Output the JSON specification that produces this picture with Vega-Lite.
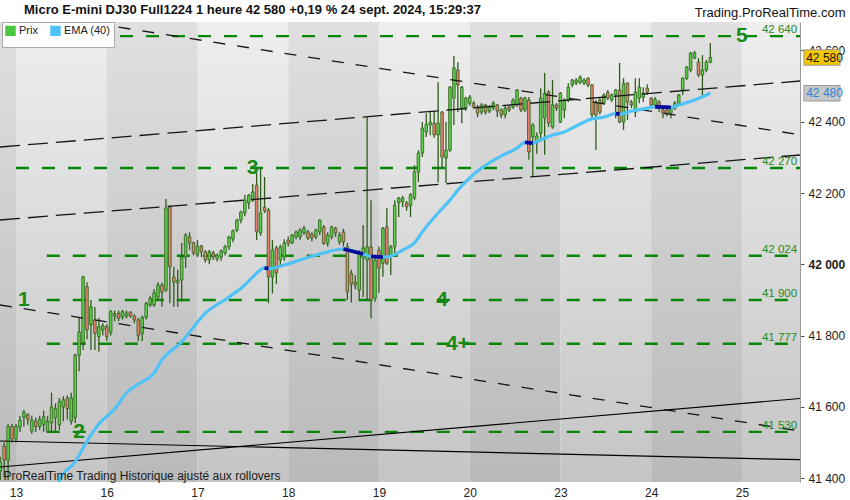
{
"$schema": "https://vega.github.io/schema/vega-lite/v6.json",
"width": 800,
"height": 460,
"autosize": {"type": "none"},
"padding": {"left": 0, "top": 22, "right": 50, "bottom": 18},
"background": "#ffffff",
"config": {"font": "Liberation Sans", "view": {"stroke": null},
"axisX": {"domain": false, "ticks": false, "grid": false, "labelFontSize": 12, "labelColor": "#222222", "labelPadding": 5, "labelFlush": false},
"axisY": {"grid": false, "domain": true, "domainColor": "#9a9a9a", "tickColor": "#555555", "tickSize": 4, "labelPadding": 4, "labelFontSize": 12, "labelColor": "#222222", "titleAngle": 0, "titleX": 45, "titleY": -6, "titleAlign": "right", "titleBaseline": "alphabetic", "titleFontSize": 13, "titleFontWeight": "normal", "titleColor": "#111111"}
},
"title": {"text": "Micro E-mini DJ30 Full1224 1 heure 42 580 +0,19 % 24 sept. 2024, 15:29:37", "anchor": "start", "frame": "group", "dx": 24, "dy": 14, "offset": 3, "fontSize": 13, "fontWeight": "bold", "color": "#111111"},
"datasets": {
"days": [
{"n":0,"day":"12","start":-4.056,"end":0},{"n":1,"day":"13","start":0,"end":23},{"n":2,"day":"16","start":23,"end":46},{"n":3,"day":"17","start":46,"end":69},{"n":4,"day":"18","start":69,"end":92},{"n":5,"day":"19","start":92,"end":115},{"n":6,"day":"20","start":115,"end":138},{"n":7,"day":"23","start":138,"end":161},{"n":8,"day":"24","start":161,"end":184},{"n":9,"day":"25","start":184,"end":198.73}
],
"levels": [
{"v":42640,"lbl":"42 640","from":0},{"v":42270,"lbl":"42 270","from":0},{"v":42024,"lbl":"42 024","from":7.8},{"v":41900,"lbl":"41 900","from":7.8},{"v":41777,"lbl":"41 777","from":7.8},{"v":41530,"lbl":"41 530","from":7.8}
],
"waves": [
{"t":"1","i":2,"v":41900},{"t":"2","i":16,"v":41530},{"t":"3","i":60,"v":42270},{"t":"4","i":108,"v":41900},{"t":"4+","i":112,"v":41777},{"t":"5","i":184,"v":42640}
],
"trends": [
{"k":"up","x1":-4.056,"p1":42329.1,"x2":198.73,"p2":42514.2},
{"k":"up","x1":-4.056,"p1":42124.3,"x2":198.73,"p2":42306.6},
{"k":"down","x1":-4.056,"p1":42717.8,"x2":198.73,"p2":42363.3},
{"k":"down","x1":-4.056,"p1":41885.9,"x2":198.73,"p2":41532.4},
{"k":"solid","x1":-4.056,"p1":41504.4,"x2":198.73,"p2":41451.9},
{"k":"solid","x1":-4.056,"p1":41431.4,"x2":198.73,"p2":41623.6}
],
"tags": [
{"t":"42 580","v":42580,"k":"last"},{"t":"42 480","v":42480,"k":"ema"}
],
"ema": [
{"i":10,"v":41347},{"i":11,"v":41395},{"i":15,"v":41446},{"i":18,"v":41504},{"i":21,"v":41552},{"i":25,"v":41594},{"i":28,"v":41639},{"i":31,"v":41664},{"i":35,"v":41695},{"i":37,"v":41732},{"i":42,"v":41782},{"i":44,"v":41810},{"i":48,"v":41863},{"i":54,"v":41908},{"i":58,"v":41942},{"i":60,"v":41964},{"i":63,"v":41990,"seg":"a"},{"i":64,"v":41988,"seg":"a"},{"i":68,"v":41998},{"i":72,"v":42012},{"i":77,"v":42029},{"i":83,"v":42043,"seg":"b"},{"i":88,"v":42029,"seg":"b"},{"i":90,"v":42022,"seg":"c"},{"i":93,"v":42020,"seg":"c"},{"i":95,"v":42023},{"i":98,"v":42040},{"i":101,"v":42060},{"i":103,"v":42091},{"i":107,"v":42144},{"i":110,"v":42180},{"i":112,"v":42208},{"i":115,"v":42242},{"i":118,"v":42270},{"i":123,"v":42304},{"i":127,"v":42326},{"i":129,"v":42342,"seg":"d"},{"i":131,"v":42340,"seg":"d"},{"i":133,"v":42349},{"i":136,"v":42363},{"i":139,"v":42371},{"i":142,"v":42388},{"i":146,"v":42408},{"i":149,"v":42413},{"i":152,"v":42423,"seg":"e"},{"i":153,"v":42421,"seg":"e"},{"i":156,"v":42430},{"i":160,"v":42438},{"i":162,"v":42442,"seg":"f"},{"i":166,"v":42440,"seg":"f"},{"i":168,"v":42447},{"i":172,"v":42461},{"i":175,"v":42475},{"i":176,"v":42481}
],
"candles": [
{"i":-4,"o":41420,"h":41460,"l":41395,"c":41445},
{"i":-3,"o":41490,"h":41501,"l":41403,"c":41451},
{"i":-2,"o":41451,"h":41552,"l":41395,"c":41545},
{"i":-1,"o":41545,"h":41552,"l":41500,"c":41510},
{"i":0,"o":41510,"h":41552,"l":41500,"c":41545},
{"i":1,"o":41543,"h":41575,"l":41530,"c":41563},
{"i":2,"o":41571,"h":41592,"l":41545,"c":41585},
{"i":3,"o":41578,"h":41582,"l":41550,"c":41566},
{"i":4,"o":41532,"h":41575,"l":41525,"c":41563},
{"i":5,"o":41560,"h":41570,"l":41530,"c":41545},
{"i":6,"o":41545,"h":41575,"l":41535,"c":41565},
{"i":7,"o":41550,"h":41590,"l":41530,"c":41572},
{"i":8,"o":41532,"h":41575,"l":41527,"c":41560},
{"i":9,"o":41555,"h":41640,"l":41528,"c":41600},
{"i":10,"o":41570,"h":41610,"l":41532,"c":41595},
{"i":11,"o":41550,"h":41625,"l":41535,"c":41615},
{"i":12,"o":41600,"h":41630,"l":41560,"c":41620},
{"i":13,"o":41625,"h":41632,"l":41565,"c":41595},
{"i":14,"o":41560,"h":41640,"l":41550,"c":41625},
{"i":15,"o":41570,"h":41750,"l":41555,"c":41745},
{"i":16,"o":41745,"h":41850,"l":41700,"c":41810},
{"i":17,"o":41780,"h":41968,"l":41760,"c":41965},
{"i":18,"o":41937,"h":41950,"l":41790,"c":41816},
{"i":19,"o":41830,"h":41900,"l":41760,"c":41881},
{"i":20,"o":41844,"h":41880,"l":41760,"c":41806},
{"i":21,"o":41797,"h":41850,"l":41755,"c":41825},
{"i":22,"o":41816,"h":41835,"l":41800,"c":41828},
{"i":23,"o":41825,"h":41832,"l":41785,"c":41797},
{"i":24,"o":41810,"h":41872,"l":41800,"c":41867},
{"i":25,"o":41855,"h":41870,"l":41840,"c":41862},
{"i":26,"o":41863,"h":41870,"l":41840,"c":41849},
{"i":27,"o":41852,"h":41872,"l":41845,"c":41867},
{"i":28,"o":41855,"h":41870,"l":41848,"c":41863},
{"i":29,"o":41866,"h":41868,"l":41850,"c":41855},
{"i":30,"o":41855,"h":41860,"l":41835,"c":41844},
{"i":31,"o":41844,"h":41850,"l":41785,"c":41800},
{"i":32,"o":41806,"h":41856,"l":41785,"c":41851},
{"i":33,"o":41852,"h":41895,"l":41845,"c":41890},
{"i":34,"o":41886,"h":41912,"l":41880,"c":41905},
{"i":35,"o":41886,"h":41930,"l":41880,"c":41920},
{"i":36,"o":41908,"h":41950,"l":41900,"c":41942},
{"i":37,"o":41942,"h":41948,"l":41880,"c":41922},
{"i":38,"o":41928,"h":42183,"l":41922,"c":42158},
{"i":39,"o":42161,"h":42164,"l":41891,"c":41993},
{"i":40,"o":41964,"h":41993,"l":41880,"c":41950},
{"i":41,"o":41948,"h":41985,"l":41880,"c":41955},
{"i":42,"o":41956,"h":42060,"l":41895,"c":42020},
{"i":43,"o":42020,"h":42088,"l":41990,"c":42082},
{"i":44,"o":42077,"h":42090,"l":42040,"c":42060},
{"i":45,"o":42060,"h":42064,"l":42025,"c":42032},
{"i":46,"o":42026,"h":42068,"l":42020,"c":42051},
{"i":47,"o":42051,"h":42055,"l":42020,"c":42035},
{"i":48,"o":42035,"h":42040,"l":42005,"c":42012},
{"i":49,"o":42012,"h":42040,"l":42000,"c":42035},
{"i":50,"o":42032,"h":42038,"l":42012,"c":42021},
{"i":51,"o":42015,"h":42030,"l":42008,"c":42026},
{"i":52,"o":42020,"h":42042,"l":42010,"c":42037},
{"i":53,"o":42032,"h":42055,"l":42025,"c":42049},
{"i":54,"o":42049,"h":42080,"l":42040,"c":42077},
{"i":55,"o":42071,"h":42098,"l":42062,"c":42094},
{"i":56,"o":42096,"h":42128,"l":42090,"c":42124},
{"i":57,"o":42124,"h":42150,"l":42115,"c":42147},
{"i":58,"o":42144,"h":42195,"l":42135,"c":42180},
{"i":59,"o":42172,"h":42197,"l":42155,"c":42194},
{"i":60,"o":42180,"h":42225,"l":42175,"c":42203},
{"i":61,"o":42222,"h":42256,"l":42068,"c":42091},
{"i":62,"o":42088,"h":42270,"l":42080,"c":42144},
{"i":63,"o":42160,"h":42245,"l":42144,"c":42150},
{"i":64,"o":42152,"h":42158,"l":41891,"c":41964},
{"i":65,"o":41964,"h":42068,"l":41918,"c":42040},
{"i":66,"o":42046,"h":42052,"l":41945,"c":41976},
{"i":67,"o":42012,"h":42055,"l":41995,"c":42049},
{"i":68,"o":42020,"h":42070,"l":42010,"c":42060},
{"i":69,"o":42068,"h":42078,"l":42050,"c":42059},
{"i":70,"o":42060,"h":42085,"l":42057,"c":42082},
{"i":71,"o":42077,"h":42095,"l":42070,"c":42091},
{"i":72,"o":42077,"h":42101,"l":42068,"c":42096},
{"i":73,"o":42088,"h":42108,"l":42082,"c":42101},
{"i":74,"o":42091,"h":42096,"l":42068,"c":42074},
{"i":75,"o":42085,"h":42090,"l":42065,"c":42074},
{"i":76,"o":42077,"h":42100,"l":42070,"c":42096},
{"i":77,"o":42091,"h":42126,"l":42082,"c":42124},
{"i":78,"o":42105,"h":42110,"l":42054,"c":42059},
{"i":79,"o":42059,"h":42090,"l":42050,"c":42082},
{"i":80,"o":42077,"h":42108,"l":42070,"c":42105},
{"i":81,"o":42101,"h":42105,"l":42077,"c":42088},
{"i":82,"o":42063,"h":42090,"l":42055,"c":42082},
{"i":83,"o":42091,"h":42100,"l":42050,"c":42063},
{"i":84,"o":42049,"h":42060,"l":41900,"c":41923},
{"i":85,"o":41975,"h":41985,"l":41893,"c":41945},
{"i":86,"o":41950,"h":41970,"l":41930,"c":41942},
{"i":87,"o":41928,"h":42040,"l":41900,"c":42031},
{"i":88,"o":42018,"h":42110,"l":41908,"c":42046},
{"i":89,"o":42012,"h":42413,"l":41900,"c":42049},
{"i":90,"o":42049,"h":42180,"l":41849,"c":41900},
{"i":91,"o":41905,"h":42020,"l":41895,"c":42012},
{"i":92,"o":42040,"h":42050,"l":41920,"c":41990},
{"i":93,"o":42003,"h":42105,"l":41965,"c":42101},
{"i":94,"o":42105,"h":42158,"l":41998,"c":42003},
{"i":95,"o":42021,"h":42055,"l":41970,"c":42049},
{"i":96,"o":42049,"h":42180,"l":42021,"c":42166},
{"i":97,"o":42172,"h":42189,"l":42133,"c":42186},
{"i":98,"o":42175,"h":42192,"l":42160,"c":42186},
{"i":99,"o":42172,"h":42178,"l":42150,"c":42161},
{"i":100,"o":42165,"h":42200,"l":42133,"c":42195},
{"i":101,"o":42186,"h":42278,"l":42180,"c":42259},
{"i":102,"o":42259,"h":42320,"l":42231,"c":42312},
{"i":103,"o":42312,"h":42399,"l":42301,"c":42382},
{"i":104,"o":42371,"h":42424,"l":42357,"c":42393},
{"i":105,"o":42391,"h":42427,"l":42362,"c":42399},
{"i":106,"o":42396,"h":42430,"l":42355,"c":42363},
{"i":107,"o":42363,"h":42511,"l":42230,"c":42396},
{"i":108,"o":42427,"h":42430,"l":42270,"c":42301},
{"i":109,"o":42298,"h":42399,"l":42228,"c":42320},
{"i":110,"o":42320,"h":42500,"l":42315,"c":42497},
{"i":111,"o":42466,"h":42584,"l":42391,"c":42551},
{"i":112,"o":42545,"h":42567,"l":42427,"c":42503},
{"i":113,"o":42438,"h":42500,"l":42396,"c":42497},
{"i":114,"o":42438,"h":42470,"l":42430,"c":42466},
{"i":115,"o":42452,"h":42475,"l":42445,"c":42469},
{"i":116,"o":42452,"h":42458,"l":42436,"c":42441},
{"i":117,"o":42441,"h":42447,"l":42413,"c":42424},
{"i":118,"o":42427,"h":42452,"l":42420,"c":42447},
{"i":119,"o":42447,"h":42450,"l":42420,"c":42427},
{"i":120,"o":42430,"h":42446,"l":42424,"c":42441},
{"i":121,"o":42438,"h":42458,"l":42432,"c":42452},
{"i":122,"o":42447,"h":42450,"l":42413,"c":42430},
{"i":123,"o":42433,"h":42438,"l":42410,"c":42419},
{"i":124,"o":42419,"h":42444,"l":42410,"c":42438},
{"i":125,"o":42441,"h":42447,"l":42427,"c":42433},
{"i":126,"o":42441,"h":42466,"l":42436,"c":42461},
{"i":127,"o":42447,"h":42492,"l":42441,"c":42489},
{"i":128,"o":42466,"h":42470,"l":42427,"c":42433},
{"i":129,"o":42433,"h":42470,"l":42427,"c":42466},
{"i":130,"o":42461,"h":42469,"l":42293,"c":42315},
{"i":131,"o":42357,"h":42396,"l":42245,"c":42391},
{"i":132,"o":42340,"h":42370,"l":42310,"c":42360},
{"i":133,"o":42368,"h":42494,"l":42349,"c":42466},
{"i":134,"o":42410,"h":42537,"l":42307,"c":42480},
{"i":135,"o":42483,"h":42489,"l":42385,"c":42396},
{"i":136,"o":42385,"h":42517,"l":42380,"c":42447},
{"i":137,"o":42447,"h":42452,"l":42430,"c":42438},
{"i":138,"o":42399,"h":42483,"l":42396,"c":42480},
{"i":139,"o":42433,"h":42466,"l":42410,"c":42461},
{"i":140,"o":42461,"h":42508,"l":42455,"c":42497},
{"i":141,"o":42503,"h":42520,"l":42497,"c":42517},
{"i":142,"o":42508,"h":42522,"l":42503,"c":42517},
{"i":143,"o":42511,"h":42530,"l":42505,"c":42525},
{"i":144,"o":42508,"h":42522,"l":42503,"c":42517},
{"i":145,"o":42522,"h":42525,"l":42497,"c":42503},
{"i":146,"o":42503,"h":42506,"l":42410,"c":42419},
{"i":147,"o":42455,"h":42461,"l":42321,"c":42419},
{"i":148,"o":42461,"h":42466,"l":42420,"c":42427},
{"i":149,"o":42452,"h":42480,"l":42447,"c":42475},
{"i":150,"o":42483,"h":42489,"l":42461,"c":42466},
{"i":151,"o":42461,"h":42480,"l":42455,"c":42475},
{"i":152,"o":42475,"h":42492,"l":42410,"c":42489},
{"i":153,"o":42489,"h":42565,"l":42396,"c":42399},
{"i":154,"o":42399,"h":42522,"l":42377,"c":42508},
{"i":155,"o":42508,"h":42511,"l":42405,"c":42455},
{"i":156,"o":42455,"h":42461,"l":42438,"c":42447},
{"i":157,"o":42427,"h":42522,"l":42413,"c":42483},
{"i":158,"o":42466,"h":42522,"l":42452,"c":42497},
{"i":159,"o":42469,"h":42497,"l":42455,"c":42480},
{"i":160,"o":42494,"h":42505,"l":42475,"c":42483},
{"i":161,"o":42466,"h":42469,"l":42441,"c":42447},
{"i":162,"o":42447,"h":42469,"l":42441,"c":42463},
{"i":163,"o":42455,"h":42461,"l":42427,"c":42441},
{"i":164,"o":42433,"h":42436,"l":42410,"c":42424},
{"i":165,"o":42433,"h":42438,"l":42415,"c":42424},
{"i":166,"o":42424,"h":42441,"l":42410,"c":42438},
{"i":167,"o":42438,"h":42458,"l":42433,"c":42452},
{"i":168,"o":42452,"h":42478,"l":42447,"c":42475},
{"i":169,"o":42489,"h":42525,"l":42475,"c":42522},
{"i":170,"o":42522,"h":42556,"l":42517,"c":42553},
{"i":171,"o":42545,"h":42596,"l":42539,"c":42593},
{"i":172,"o":42579,"h":42599,"l":42575,"c":42593},
{"i":173,"o":42567,"h":42579,"l":42525,"c":42531},
{"i":174,"o":42531,"h":42587,"l":42469,"c":42545},
{"i":175,"o":42545,"h":42573,"l":42539,"c":42567},
{"i":176,"o":42567,"h":42621,"l":42564,"c":42580}
]
},
"layer": [
{
"data": {"name": "days"},
"transform": [{"filter": "datum.n % 2 == 1"}],
"mark": {"type": "rect", "fill": {"gradient": "linear", "x1": 0, "y1": 0, "x2": 0, "y2": 1, "stops": [{"offset": 0, "color": "#eeeeee"}, {"offset": 1, "color": "#c5c5c5"}]}},
"encoding": {
"x": {"field": "start", "type": "quantitative", "scale": {"domain": [-4.056, 198.73], "nice": false, "zero": false, "padding": 0},
"axis": {"orient": "bottom", "zindex": 2, "values": [0, 23, 46, 69, 92, 115, 138, 161, 184], "labelExpr": "['13','16','17','18','19','20','23','24','25'][round(datum.value/23)]", "title": "ProRealTime Trading  Historique ajusté aux rollovers", "titleX": 3, "titleY": -3, "titleAlign": "left", "titleAnchor": "start", "titleBaseline": "alphabetic", "titleFontSize": 12, "titleFontWeight": "normal", "titleColor": "#1a1a1a"}},
"x2": {"field": "end"},
"y": {"datum": 41389.4, "type": "quantitative", "scale": {"domain": [41389.4, 42679.7], "nice": false, "zero": false, "padding": 0},
"axis": {"orient": "right", "values": [41400, 41500, 41600, 41700, 41800, 41900, 42000, 42100, 42200, 42300, 42400, 42500, 42600], "labelExpr": "replace(format(datum.value, ','), ',', ' ')", "labelFontWeight": {"condition": {"test": "datum.value % 500 === 0", "value": "bold"}, "value": "normal"}, "title": "Trading.ProRealTime.com"}},
"y2": {"datum": 42679.7}
}
},
{
"data": {"name": "days"},
"transform": [{"filter": "datum.n % 2 == 0"}],
"mark": {"type": "rect", "fill": {"gradient": "linear", "x1": 0, "y1": 0, "x2": 0, "y2": 1, "stops": [{"offset": 0, "color": "#e0e0e0"}, {"offset": 1, "color": "#b9b9b9"}]}},
"encoding": {
"x": {"field": "start", "type": "quantitative"},
"x2": {"field": "end"},
"y": {"datum": 41389.4, "type": "quantitative"},
"y2": {"datum": 42679.7}
}
},
{
"data": {"name": "levels"},
"mark": {"type": "rule", "color": "#078707", "strokeWidth": 2.4, "strokeDash": [13, 13]},
"encoding": {
"x": {"field": "from", "type": "quantitative"},
"x2": {"datum": 198.73},
"y": {"field": "v", "type": "quantitative"}
}
},
{
"data": {"name": "candles"},
"mark": {"type": "rule", "color": "#2e5e1a", "strokeWidth": 1.3},
"encoding": {
"x": {"field": "i", "type": "quantitative"},
"y": {"field": "l", "type": "quantitative"},
"y2": {"field": "h"}
}
},
{
"data": {"name": "candles"},
"mark": {"type": "bar", "size": 2.6, "stroke": "#2e5e1a", "strokeWidth": 0.8},
"encoding": {
"x": {"field": "i", "type": "quantitative"},
"y": {"field": "o", "type": "quantitative"},
"y2": {"field": "c"},
"fill": {"condition": {"test": "datum.c >= datum.o", "value": "#5ccf4a"}, "value": "#e8806e"}
}
},
{
"data": {"name": "trends"},
"transform": [{"filter": "datum.k == 'up'"}],
"mark": {"type": "rule", "color": "#151515", "strokeWidth": 1.3, "strokeDash": [20, 8], "clip": true},
"encoding": {
"x": {"field": "x1", "type": "quantitative"},
"x2": {"field": "x2"},
"y": {"field": "p1", "type": "quantitative"},
"y2": {"field": "p2"}
}
},
{
"data": {"name": "trends"},
"transform": [{"filter": "datum.k == 'down'"}],
"mark": {"type": "rule", "color": "#151515", "strokeWidth": 1.3, "strokeDash": [12, 12], "clip": true},
"encoding": {
"x": {"field": "x1", "type": "quantitative"},
"x2": {"field": "x2"},
"y": {"field": "p1", "type": "quantitative"},
"y2": {"field": "p2"}
}
},
{
"data": {"name": "trends"},
"transform": [{"filter": "datum.k == 'solid'"}],
"mark": {"type": "rule", "color": "#000000", "strokeWidth": 1.2, "clip": true},
"encoding": {
"x": {"field": "x1", "type": "quantitative"},
"x2": {"field": "x2"},
"y": {"field": "p1", "type": "quantitative"},
"y2": {"field": "p2"}
}
},
{
"data": {"name": "ema"},
"mark": {"type": "line", "strokeWidth": 3.2, "clip": true, "interpolate": "monotone"},
"encoding": {
"x": {"field": "i", "type": "quantitative"},
"y": {"field": "v", "type": "quantitative"},
"color": {"datum": "EMA (40)", "type": "nominal", "scale": {"domain": ["Prix", "EMA (40)"], "range": ["#4cc63c", "#4fc3f7"]},
"legend": {"orient": "none", "legendX": 2, "legendY": 0, "direction": "horizontal", "title": null, "fillColor": "#ffffff", "strokeColor": "#aaaaaa", "padding": 3, "symbolType": "square", "symbolSize": 30, "symbolStrokeWidth": 5, "labelFontSize": 11, "labelColor": "#222222", "labelOffset": 3, "columnPadding": 4}}
}
},
{
"data": {"name": "ema"},
"transform": [{"filter": "isValid(datum.seg)"}],
"mark": {"type": "line", "color": "#0a0a9a", "strokeWidth": 3.8},
"encoding": {
"x": {"field": "i", "type": "quantitative"},
"y": {"field": "v", "type": "quantitative"},
"detail": {"field": "seg", "type": "nominal"}
}
},
{
"data": {"name": "levels"},
"mark": {"type": "text", "align": "right", "baseline": "alphabetic", "dy": -3, "fontSize": 11.5, "color": "#1e8c1e"},
"encoding": {
"x": {"datum": 198, "type": "quantitative"},
"y": {"field": "v", "type": "quantitative"},
"text": {"field": "lbl"}
}
},
{
"data": {"name": "waves"},
"mark": {"type": "text", "align": "center", "baseline": "middle", "fontSize": 21, "fontWeight": "bold", "color": "#158a15"},
"encoding": {
"x": {"field": "i", "type": "quantitative"},
"y": {"field": "v", "type": "quantitative"},
"text": {"field": "t"}
}
},
{
"data": {"name": "tags"},
"mark": {"type": "rule", "strokeWidth": 16.5, "color": "#9a9a9a", "strokeCap": "butt"},
"encoding": {
"x": {"datum": 199.6, "type": "quantitative"},
"x2": {"datum": 209.0},
"y": {"field": "v", "type": "quantitative"}
}
},
{
"data": {"name": "tags"},
"mark": {"type": "rule", "strokeWidth": 14.5, "strokeCap": "butt"},
"encoding": {
"x": {"datum": 199.85, "type": "quantitative"},
"x2": {"datum": 208.75},
"y": {"field": "v", "type": "quantitative"},
"color": {"condition": {"test": "datum.k === 'last'", "value": "#f6c700"}, "value": "#c6c6c6"}
}
},
{
"data": {"name": "tags"},
"mark": {"type": "text", "align": "left", "baseline": "middle", "fontSize": 12},
"encoding": {
"x": {"datum": 200.3, "type": "quantitative"},
"y": {"field": "v", "type": "quantitative"},
"text": {"field": "t"},
"color": {"condition": {"test": "datum.k === 'last'", "value": "#111111"}, "value": "#2a87d8"}
}
}
]
}
